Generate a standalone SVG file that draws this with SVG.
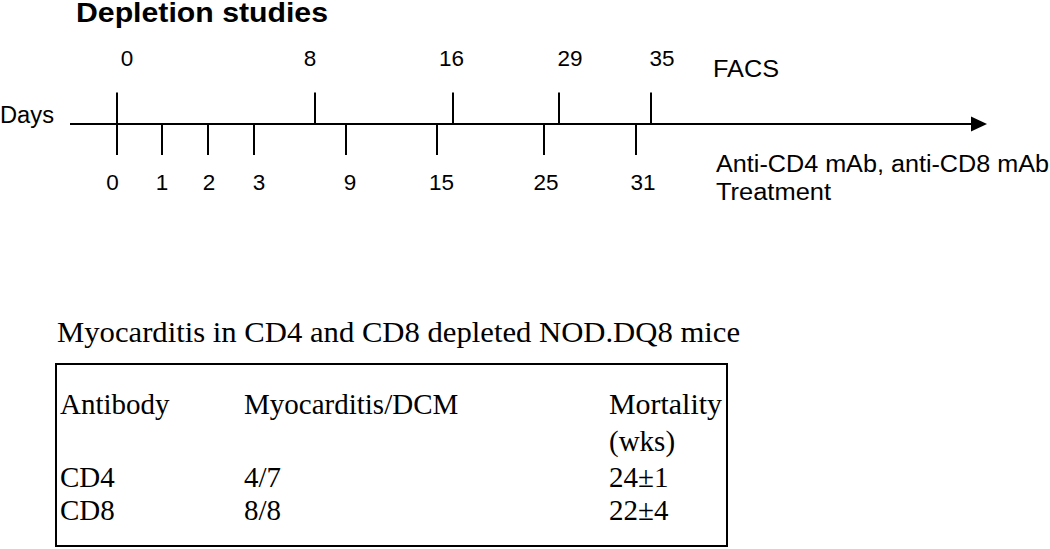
<svg xmlns="http://www.w3.org/2000/svg" width="1050" height="549" viewBox="0 0 1050 549">
<defs>
<style>
.s{font-family:"Liberation Sans",Arial,sans-serif;font-size:23px;fill:#000}
.n{font-family:"Liberation Sans",Arial,sans-serif;font-size:22.5px;fill:#000;text-anchor:middle}
.b{font-family:"Liberation Sans",Arial,sans-serif;font-size:27px;font-weight:bold;fill:#000}
.t{font-family:"Liberation Serif","Times New Roman",serif;font-size:29px;fill:#000}
.tt{font-family:"Liberation Serif","Times New Roman",serif;font-size:30px;fill:#000}
.ln{stroke:#000;stroke-width:2;fill:none}
</style>
</defs>
<rect width="1050" height="549" fill="#fff"/>
<g id="title"><text class="b" x="76" y="22" textLength="252" lengthAdjust="spacingAndGlyphs">Depletion studies</text></g>
<g id="connectors">
<line class="ln" x1="70" y1="124" x2="973" y2="124"/>
<polygon points="971,116.5 987,124 971,131.5" fill="#000"/>
<g class="ln">
<line x1="117" y1="92.5" x2="117" y2="155"/>
<line x1="315" y1="92.5" x2="315" y2="124"/>
<line x1="453" y1="92.5" x2="453" y2="124"/>
<line x1="559" y1="92.5" x2="559" y2="124"/>
<line x1="651" y1="92.5" x2="651" y2="124"/>
<line x1="162" y1="124" x2="162" y2="155"/>
<line x1="208" y1="124" x2="208" y2="155"/>
<line x1="254" y1="124" x2="254" y2="155"/>
<line x1="346" y1="124" x2="346" y2="155"/>
<line x1="437" y1="124" x2="437" y2="155"/>
<line x1="544" y1="124" x2="544" y2="155"/>
<line x1="636" y1="124" x2="636" y2="155"/>
</g>
</g>
<g id="days"><text class="s" x="0" y="123" textLength="54" lengthAdjust="spacingAndGlyphs">Days</text></g>
<g id="facs-days">
<text class="n" x="127" y="66">0</text>
<text class="n" x="310" y="66">8</text>
<text class="n" x="451.5" y="66">16</text>
<text class="n" x="570" y="66">29</text>
<text class="n" x="662" y="66">35</text>
<text class="s" x="713" y="77" textLength="66" lengthAdjust="spacingAndGlyphs">FACS</text>
</g>
<g id="treatment-days">
<text class="n" x="112.5" y="190">0</text>
<text class="n" x="162" y="190">1</text>
<text class="n" x="209" y="190">2</text>
<text class="n" x="259" y="190">3</text>
<text class="n" x="350" y="190">9</text>
<text class="n" x="441.5" y="190">15</text>
<text class="n" x="546" y="190">25</text>
<text class="n" x="643" y="190">31</text>
<text class="s" x="716" y="171.5" textLength="333" lengthAdjust="spacingAndGlyphs">Anti-CD4 mAb, anti-CD8 mAb</text>
<text class="s" x="716" y="200" textLength="115" lengthAdjust="spacingAndGlyphs">Treatment</text>
</g>
<g id="table">
<text class="tt" x="57" y="342" textLength="683" lengthAdjust="spacingAndGlyphs">Myocarditis in CD4 and CD8 depleted NOD.DQ8 mice</text>
<rect class="ln" x="56" y="364" width="671" height="182"/>
<text class="t" x="60" y="414">Antibody</text>
<text class="t" x="244" y="414">Myocarditis/DCM</text>
<text class="t" x="609" y="414" textLength="113" lengthAdjust="spacingAndGlyphs">Mortality</text>
<text class="t" x="609" y="451">(wks)</text>
<text class="t" x="60" y="487">CD4</text>
<text class="t" x="244" y="487">4/7</text>
<text class="t" x="609" y="487">24±1</text>
<text class="t" x="60" y="520">CD8</text>
<text class="t" x="244" y="520">8/8</text>
<text class="t" x="609" y="520">22±4</text>
</g>
</svg>
